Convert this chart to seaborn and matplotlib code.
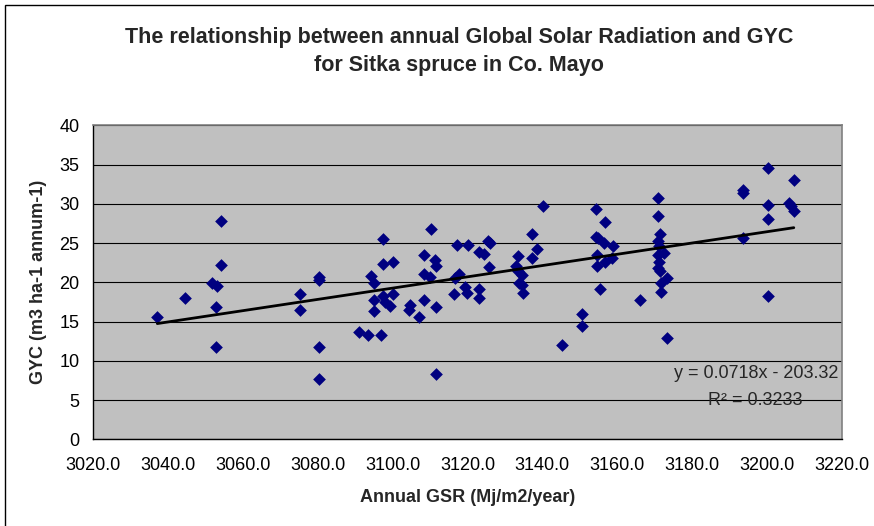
import matplotlib
matplotlib.use("Agg")
import matplotlib.pyplot as plt
import matplotlib.patches as mpatches
from matplotlib.ticker import FuncFormatter, MultipleLocator
import numpy as np
import pandas as pd
import seaborn as sns

# ---- data ----
gsr = [
    3037.1, 3044.5, 3054.1, 3054.1, 3051.7, 3053.0, 3052.8, 3052.8,
    3075.3, 3075.3, 3080.3, 3080.3, 3080.2, 3080.2,
    3090.9, 3093.4, 3096.8, 3094.2, 3095.1, 3097.5, 3097.3, 3100.2,
    3095.1, 3097.5, 3100.2, 3098.0, 3099.3, 3094.9, 3104.7, 3104.5,
    3107.1, 3108.4, 3108.4, 3108.4, 3110.0, 3110.3, 3111.4, 3111.6,
    3111.6, 3111.6,
    3117.2, 3120.1, 3125.5, 3125.9, 3123.2, 3124.3, 3125.8, 3117.6,
    3116.7, 3119.4, 3119.8, 3116.4, 3123.2, 3123.2,
    3133.6, 3133.0, 3133.5, 3134.5, 3133.8, 3134.5, 3134.7,
    3137.2, 3138.6, 3137.2, 3140.2, 3145.2, 3150.7, 3150.7,
    3154.4, 3156.8, 3154.4, 3155.0, 3156.6, 3159.0, 3154.6, 3158.6,
    3156.8, 3154.6, 3155.5, 3166.2,
    3170.9, 3170.9, 3171.5, 3170.8, 3171.1, 3170.8, 3172.6, 3171.1,
    3170.8, 3171.5, 3173.3, 3171.7, 3171.6, 3173.4,
    3193.6, 3193.6, 3193.6, 3200.2, 3200.2, 3200.2, 3200.2,
    3207.2, 3205.8, 3206.5, 3207.2,
]
gyc = [
    15.6, 18.0, 27.8, 22.2, 19.9, 19.5, 16.9, 11.8,
    18.5, 16.5, 20.7, 20.3, 11.8, 7.7,
    13.7, 13.3, 13.3, 20.8, 19.9, 25.5, 22.3, 22.6,
    17.7, 18.2, 18.5, 17.5, 17.0, 16.3, 17.1, 16.5,
    15.6, 17.7, 23.5, 21.1, 20.7, 26.8, 22.9, 22.1,
    16.9, 8.3,
    24.8, 24.8, 25.2, 25.0, 23.9, 23.6, 21.9, 21.1,
    20.5, 19.4, 18.6, 18.5, 19.2, 18.0,
    23.4, 22.1, 21.4, 20.9, 19.9, 19.7, 18.7,
    26.2, 24.3, 23.1, 29.7, 12.0, 16.0, 14.4,
    29.3, 27.7, 25.8, 25.6, 25.0, 24.6, 23.5, 23.1,
    22.6, 22.1, 19.2, 17.7,
    30.7, 28.4, 26.2, 25.2, 24.6, 23.5, 23.7, 22.6,
    21.8, 21.4, 20.5, 19.9, 18.8, 12.9,
    31.8, 31.4, 25.7, 34.6, 29.8, 28.1, 18.3,
    33.0, 30.1, 29.7, 29.1,
]
trend_slope = 0.0718
trend_intercept = -203.32
r_squared = 0.3233

title = "The relationship between annual Global Solar Radiation and GYC\nfor Sitka spruce in Co. Mayo"
x_label = "Annual GSR (Mj/m2/year)"
y_label = "GYC (m3 ha-1 annum-1)"

df = pd.DataFrame({"gsr": gsr, "gyc": gyc})
trend_x = np.array([min(gsr), max(gsr)])
trend_df = pd.DataFrame({"gsr": trend_x, "gyc": trend_slope * trend_x + trend_intercept})

# ---- styling ----
sns.set_style("white")
plt.rcParams["font.family"] = ["Liberation Sans", "DejaVu Sans"]

W, H = 874, 526
fig = plt.figure(figsize=(W / 100, H / 100), dpi=100)
fig.patch.set_facecolor("white")

ax_left, ax_right = 93.3 / W, 841.7 / W
ax_bottom, ax_top = 1 - 439.3 / H, 1 - 125.3 / H
ax = fig.add_axes([ax_left, ax_bottom, ax_right - ax_left, ax_top - ax_bottom])
ax.set_facecolor("#C0C0C0")

sns.scatterplot(data=df, x="gsr", y="gyc", ax=ax, marker="D", s=42,
                color="#000080", linewidth=0, zorder=3)
sns.lineplot(data=trend_df, x="gsr", y="gyc", ax=ax, color="black",
             linewidth=2.0, zorder=4)

ax.set_xlim(3020, 3220)
ax.set_ylim(0, 40)
ax.xaxis.set_major_locator(MultipleLocator(20))
ax.yaxis.set_major_locator(MultipleLocator(5))
ax.xaxis.set_major_formatter(FuncFormatter(lambda v, p: f"{v:.1f}"))
ax.yaxis.set_major_formatter(FuncFormatter(lambda v, p: f"{v:.0f}"))
ax.set_xlabel("")
ax.set_ylabel("")

ax.grid(axis="y", color="black", linewidth=0.8)
ax.grid(axis="x", visible=False)
ax.set_axisbelow(True)

for side in ["left", "bottom"]:
    ax.spines[side].set_color("black")
    ax.spines[side].set_linewidth(1.0)
for side in ["top", "right"]:
    ax.spines[side].set_visible(True)
    ax.spines[side].set_color("#808080")
    ax.spines[side].set_linewidth(1.2)

ax.tick_params(axis="both", which="major", direction="out", length=4,
               width=0.8, color="black", labelsize=13, labelcolor="black")
ax.tick_params(axis="x", pad=9)
ax.tick_params(axis="y", pad=6)

# trend equation
ax.text(0.9955, 0.211, f"y = {trend_slope}x - {abs(trend_intercept):.2f}",
        transform=ax.transAxes, ha="right", va="center", fontsize=13, zorder=5)
ax.text(0.884, 0.1236, f"R\u00b2 = {r_squared}", transform=ax.transAxes,
        ha="center", va="center", fontsize=13, zorder=5)

# titles and labels
fig.text(459 / W, 1 - 51.5 / H, title, ha="center", va="center",
         fontsize=15.5, fontweight="bold", linespacing=1.4)
fig.text(468 / W, 1 - 497 / H, x_label, ha="center", va="center",
         fontsize=13, fontweight="bold")
fig.text(39 / W, 1 - 282.3 / H, y_label, ha="center", va="center",
         rotation=90, fontsize=13, fontweight="bold")

# outer chart border
fig.patches.append(mpatches.Rectangle((5 / W, -0.1), 2.0, 1 - 5 / H + 0.1,
                                      transform=fig.transFigure, fill=False,
                                      edgecolor="black", linewidth=1.0))

fig.savefig("out.png", dpi=100)
